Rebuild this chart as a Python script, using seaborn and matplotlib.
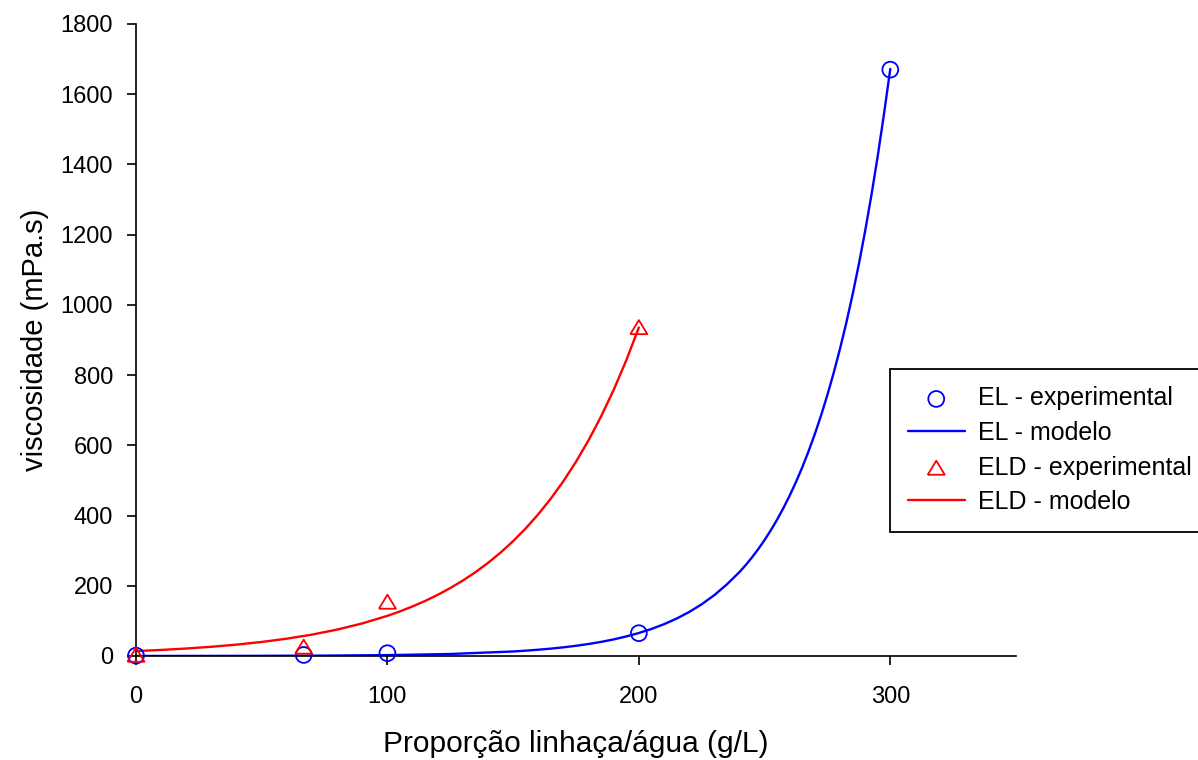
import matplotlib
matplotlib.use("Agg")
import matplotlib.pyplot as plt
import seaborn as sns
import pandas as pd

# ---- data ----
el_x = [0, 66.7, 100, 200, 300]
el_y = [1, 3, 8, 65, 1670]

eld_x = [0, 66.7, 100, 200]
eld_y = [3, 26, 154, 936]

el_model_x = [0, 25, 50, 75, 100, 125, 150, 155, 160, 165, 170, 175, 180, 185,
              190, 195, 200, 205, 210, 215, 220, 225, 230, 235, 240, 242.5, 245,
              247.5, 250, 252.5, 255, 257.5, 260, 262.5, 265, 267.5, 270, 272.5,
              275, 277.5, 280, 282.5, 285, 287.5, 290, 292.5, 295, 297.5, 300]
el_model_y = [0.1, 0.22, 0.5, 1.13, 2.54, 5.7, 12.9, 15.2, 17.9, 21.0, 24.7,
              29.1, 34.2, 40.2, 47.3, 55.7, 65.5, 77.0, 90.6, 106.5, 125.3,
              147.4, 173.3, 203.9, 239, 259.0, 280.9, 304.6, 330.4, 358.3,
              388.6, 421.5, 457.1, 495.7, 537.6, 583.1, 632.4, 685.8, 743.8,
              806.7, 874.9, 948.8, 1029.0, 1116.0, 1210.3, 1312.6, 1423.6,
              1543.9, 1672]

eld_model_x = [0, 10, 20, 30, 40, 50, 60, 70, 80, 90, 100, 105, 110, 115, 120,
               125, 130, 135, 140, 145, 150, 155, 160, 165, 170, 175, 180, 185,
               190, 195, 200]
eld_model_y = [14, 17.3, 21.3, 26.3, 32.4, 40.0, 49.4, 60.9, 75.2, 92.8, 114.4,
               127.1, 141.2, 156.8, 174.2, 193.5, 214.9, 238.7, 265.2, 294.5,
               327.2, 363.4, 403.7, 448.4, 498.0, 553.2, 614.5, 682.6, 758.2,
               842.2, 935.5]

labels = ["EL - experimental", "EL - modelo", "ELD - experimental", "ELD - modelo"]
x_label = "Proporção linhaça/água (g/L)"
y_label = "viscosidade (mPa.s)"
x_ticks = [0, 100, 200, 300]
y_ticks = [0, 200, 400, 600, 800, 1000, 1200, 1400, 1600, 1800]

# ---- style ----
sns.set_style("ticks")
plt.rcParams["font.family"] = ["Liberation Sans", "DejaVu Sans"]
plt.rcParams["text.color"] = "black"

BLUE = "#0000FF"
RED = "#FF0000"

fig = plt.figure(figsize=(11.98, 7.6), dpi=100)
ax = fig.add_axes([136 / 1198, 1 - 656 / 760, (1016 - 136) / 1198, (656 - 24) / 760])

tri = [(-1.0, -0.8), (1.0, -0.8), (0.0, 0.85), (-1.0, -0.8)]

df_el = pd.DataFrame({"x": el_x, "y": el_y})
df_eld = pd.DataFrame({"x": eld_x, "y": eld_y})
df_elm = pd.DataFrame({"x": el_model_x, "y": el_model_y})
df_eldm = pd.DataFrame({"x": eld_model_x, "y": eld_model_y})

sns.scatterplot(data=df_el, x="x", y="y", ax=ax, marker="o", s=130,
                facecolors="none", edgecolor=BLUE, linewidth=1.3,
                label=labels[0], zorder=3, clip_on=False)
sns.lineplot(data=df_elm, x="x", y="y", ax=ax, color=BLUE, linewidth=1.7,
             label=labels[1], zorder=2)
sns.scatterplot(data=df_eld, x="x", y="y", ax=ax, marker=tri, s=150,
                facecolors="none", edgecolor=RED, linewidth=1.3,
                label=labels[2], zorder=3, clip_on=False)
sns.lineplot(data=df_eldm, x="x", y="y", ax=ax, color=RED, linewidth=1.7,
             label=labels[3], zorder=2)

for coll in ax.collections:
    coll.set_facecolor("none")
    coll.set_clip_on(False)

ax.set_xlim(0, 350)
ax.set_ylim(0, 1800)
ax.set_xticks(x_ticks)
ax.set_yticks(y_ticks)
ax.tick_params(axis="both", direction="out", length=6.5, width=1.2,
               labelsize=17, colors="black")
ax.tick_params(axis="x", pad=15)
ax.tick_params(axis="y", pad=10)
for side in ["top", "right"]:
    ax.spines[side].set_visible(False)
for side in ["left", "bottom"]:
    ax.spines[side].set_linewidth(1.2)
    ax.spines[side].set_color("black")

ax.set_xlabel(x_label, fontsize=21.5, labelpad=16, color="black")
ax.set_ylabel(y_label, fontsize=21, labelpad=8, color="black")

handles, lbls = ax.get_legend_handles_labels()
ax.get_legend().remove()
leg = fig.legend(handles, lbls, loc="upper left",
                 bbox_to_anchor=(890 / 1198, 1 - 369 / 760),
                 bbox_transform=fig.transFigure,
                 fontsize=18, frameon=True, fancybox=False, shadow=False,
                 edgecolor="black", framealpha=1, borderaxespad=0,
                 handlelength=2.3, handletextpad=0.5, labelspacing=0.42,
                 borderpad=0.7, markerscale=1.0, labelcolor="black")
leg.get_frame().set_linewidth(1.3)

fig.savefig("out.png", dpi=100)
